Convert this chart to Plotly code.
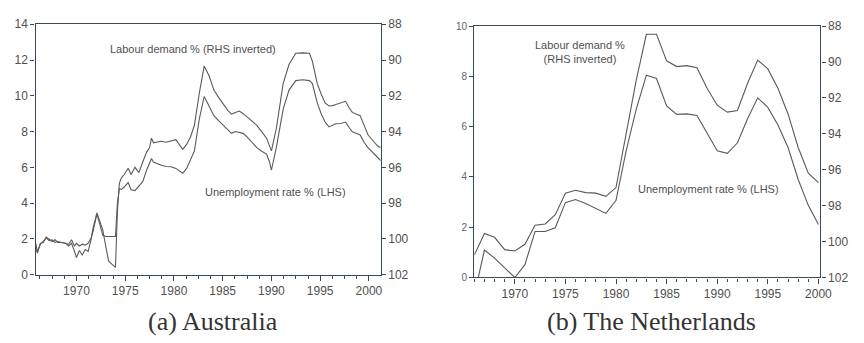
import plotly.graph_objects as go

# ---------------- data ----------------
# Australia (quarterly-ish, decimal years)
au_years = [1965.8, 1966.0, 1966.3, 1966.6, 1966.9, 1967.2, 1967.5, 1967.8, 1968.1, 1968.5,
            1968.9, 1969.2, 1969.5, 1969.8, 1970.0, 1970.3, 1970.6, 1970.9, 1971.2, 1971.5,
            1971.7, 1972.1, 1972.4, 1972.7, 1973.0, 1973.3, 1973.6, 1973.9, 1974.0, 1974.2,
            1974.4, 1974.6, 1974.9, 1975.3, 1975.6, 1976.0, 1976.4, 1976.8, 1977.2, 1977.5,
            1977.7, 1977.9, 1978.3, 1978.7, 1979.2, 1979.7, 1980.2, 1980.9, 1981.3, 1981.7,
            1982.1, 1982.6, 1983.1, 1983.6, 1984.1, 1984.6, 1985.1, 1985.5, 1985.9, 1986.3,
            1986.7, 1987.1, 1987.5, 1988.0, 1988.5, 1989.0, 1989.5, 1989.8, 1990.0, 1990.5,
            1991.2, 1991.8, 1992.5, 1993.2, 1993.9, 1994.2, 1994.7, 1995.1, 1995.5, 1995.9,
            1996.3, 1996.6, 1997.1, 1997.6, 1998.0, 1998.3, 1999.1, 1999.5, 1999.9, 2000.4,
            2000.9, 2001.2]
au_unemp = [1.8, 1.3, 1.7, 1.85, 2.05, 1.9, 1.95, 1.8, 1.85, 1.8,
            1.75, 1.7, 1.95, 1.6, 1.75, 1.6, 1.7, 1.65, 1.75, 2.05,
            2.4, 3.4, 2.8, 2.2, 2.13, 2.13, 2.13, 2.13, 2.13, 4.0,
            4.8, 4.77, 4.9, 5.15, 4.75, 4.7, 4.95, 5.2, 5.85, 6.2,
            6.49, 6.3, 6.2, 6.12, 6.05, 6.03, 5.94, 5.67, 5.94, 6.4,
            6.92, 8.7, 9.96, 9.43, 8.89, 8.6, 8.35, 8.1, 7.9, 8.0,
            7.95, 7.9, 7.7, 7.4, 7.1, 6.9, 6.74, 6.3, 5.85, 7.1,
            9.24, 10.32, 10.85, 10.9, 10.85, 10.68, 9.6, 9.0, 8.53, 8.26,
            8.35, 8.44, 8.45, 8.53, 8.2, 7.99, 7.81, 7.4, 7.1, 6.8,
            6.56, 6.38]
# labour demand %, RHS (inverted) units
au_labour = [100.5, 100.8, 100.25, 100.2, 99.9, 100.05, 100.15, 100.05, 100.2, 100.2,
             100.25, 100.4, 100.25, 100.7, 101.05, 100.65, 100.9, 100.6, 100.7, 100.05,
             99.4, 98.55, 99.0, 99.5, 100.4, 101.25, 101.4, 101.55, 101.6, 98.5,
             96.9, 96.6, 96.4, 96.05, 96.4, 96.0, 96.3, 95.7, 95.15, 94.9,
             94.37, 94.63, 94.6, 94.54, 94.6, 94.54, 94.45, 94.99, 94.72, 94.3,
             93.65, 91.86, 90.34, 90.88, 91.68, 92.1, 92.49, 92.8, 93.02, 92.93,
             92.85, 93.0, 93.2, 93.4, 93.65, 94.0, 94.37, 94.8, 95.08, 93.83,
             91.32, 90.25, 89.62, 89.6, 89.62, 90.07, 91.32, 91.9, 92.4, 92.57,
             92.55, 92.49, 92.4, 92.31, 92.7, 92.93, 93.11, 93.7, 94.18, 94.5,
             94.81, 94.9]

# The Netherlands (annual)
nl_years = list(range(1966, 2001))
nl_unemp = [-0.7, 1.09, 0.77, 0.38, 0.0, 0.51, 1.83, 1.83, 1.98, 2.98,
            3.1, 2.94, 2.75, 2.55, 3.07, 5.04, 6.7, 8.05, 7.92, 6.83,
            6.49, 6.51, 6.45, 5.75, 5.04, 4.94, 5.36, 6.32, 7.15, 6.77,
            6.07, 5.17, 3.9, 2.87, 2.11]
# labour demand %, RHS (inverted) units
nl_labour = [100.75, 99.55, 99.76, 100.45, 100.52, 100.15, 99.09, 99.02, 98.5, 97.31,
             97.14, 97.27, 97.3, 97.48, 96.99, 94.02, 91.01, 88.45, 88.45, 89.93,
             90.25, 90.2, 90.32, 91.46, 92.4, 92.79, 92.7, 91.18, 89.89, 90.38,
             91.46, 92.89, 94.76, 96.19, 96.72]

au_ticks = [1970, 1975, 1980, 1985, 1990, 1995, 2000]
nl_ticks = [1970, 1975, 1980, 1985, 1990, 1995, 2000]

# ---------------- style ----------------
W, H = 864, 343
LINE = "#5a5a5a"
AXC = "#3b4b55"
TXT = "#505050"
SANS = "Liberation Sans, Arial, sans-serif"
SERIF = "Liberation Serif, Times New Roman, serif"


def px(x):
    return x / W


def py(y):
    return 1 - y / H


fig = go.Figure()
fig.add_trace(go.Scatter(x=au_years, y=au_unemp, xaxis="x", yaxis="y", mode="lines",
                         line=dict(color=LINE, width=1.1), showlegend=False))
fig.add_trace(go.Scatter(x=au_years, y=au_labour, xaxis="x", yaxis="y2", mode="lines",
                         line=dict(color=LINE, width=1.1), showlegend=False))
fig.add_trace(go.Scatter(x=nl_years, y=nl_unemp, xaxis="x2", yaxis="y3", mode="lines",
                         line=dict(color=LINE, width=1.1), showlegend=False))
fig.add_trace(go.Scatter(x=nl_years, y=nl_labour, xaxis="x2", yaxis="y4", mode="lines",
                         line=dict(color=LINE, width=1.1), showlegend=False))

tickfont = dict(family=SANS, size=12, color=TXT)
smallfont = dict(family=SANS, size=10, color="#666")

common_x = dict(showgrid=False, zeroline=False, showline=True, linecolor=AXC, linewidth=1.4,
                mirror=True, ticks="outside", ticklen=5, tickcolor=AXC, tickfont=tickfont)
common_y = dict(showgrid=False, zeroline=False, showline=True, linecolor=AXC, linewidth=1.4,
                ticks="outside", ticklen=4, tickcolor=AXC, tickfont=tickfont)

fig.update_layout(
    width=W, height=H,
    margin=dict(l=0, r=0, t=0, b=0),
    paper_bgcolor="white", plot_bgcolor="white",
    xaxis=dict(domain=[px(36), px(386)], anchor="y", range=[1965.8, 2001.2],
               tickvals=au_ticks, ticktext=[str(t) for t in au_ticks],
               minor=dict(tick0=1970, dtick=1.25, ticks="outside", ticklen=3, tickcolor=AXC),
               **common_x),
    yaxis=dict(domain=[py(279), py(18)], anchor="x", range=[0, 14], dtick=2, **common_y),
    yaxis2=dict(overlaying="y", anchor="x", side="right", range=[102, 88], dtick=2, **common_y),
    xaxis2=dict(domain=[px(481), px(832)], anchor="y3", range=[1966, 2000.2],
                tickvals=nl_ticks, ticktext=[str(t) for t in nl_ticks],
                minor=dict(tick0=1966, dtick=1, ticks="outside", ticklen=3, tickcolor=AXC),
                **common_x),
    yaxis3=dict(domain=[py(282), py(20)], anchor="x2", range=[0, 10], dtick=2,
                **{**common_y, "tickfont": smallfont}),
    yaxis4=dict(overlaying="y3", anchor="x2", side="right", range=[102, 88], dtick=2, **common_y),
)

ann_font = dict(family=SANS, size=11, color=TXT)
annotations = [
    dict(x=px(196), y=py(44), text="Labour demand % (RHS inverted)", font=ann_font),
    dict(x=px(279), y=py(193), text="Unemployment rate % (LHS)", font=ann_font),
    dict(x=px(588), y=py(47), text="Labour demand %<br>(RHS inverted)", font=ann_font),
    dict(x=px(718), y=py(190), text="Unemployment rate % (LHS)", font=ann_font),
    dict(x=px(216), y=py(328), text="(a) Australia",
         font=dict(family=SERIF, size=26, color="#333")),
    dict(x=px(661), y=py(328), text="(b) The Netherlands",
         font=dict(family=SERIF, size=26, color="#333")),
]
for a in annotations:
    a.update(xref="paper", yref="paper", showarrow=False, xanchor="center", yanchor="middle")
fig.update_layout(annotations=annotations)

fig.write_html("out.html")
